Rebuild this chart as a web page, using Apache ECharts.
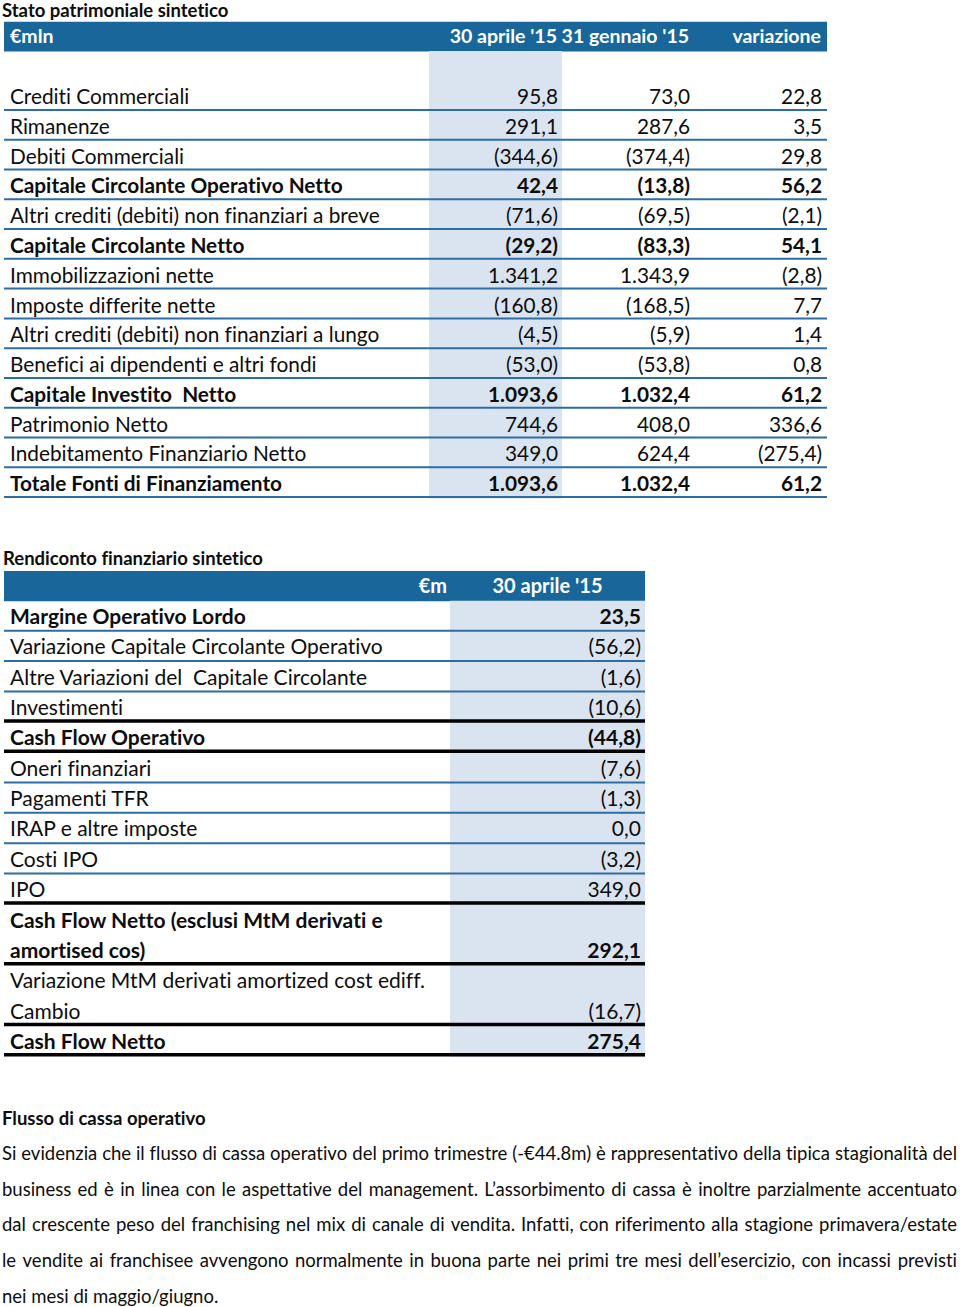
<!DOCTYPE html>
<html><head><meta charset="utf-8">
<script src="https://cdn.jsdelivr.net/npm/echarts@6/dist/echarts.min.js"></script>
<style>html,body{margin:0;padding:0;background:#fff}#c{width:960px;height:1307px}
#c text{font-variant-ligatures:none !important;font-feature-settings:"liga" 0,"clig" 0,"dlig" 0 !important}</style>
</head><body><div id="c"></div>
<script>
// ---------- DATA ----------
const spTitle = 'Stato patrimoniale sintetico';
const spHeaders = ['€mln', "30 aprile '15", "31 gennaio '15", 'variazione'];
const spLabels = [
  'Crediti Commerciali', 'Rimanenze', 'Debiti Commerciali',
  'Capitale Circolante Operativo Netto', 'Altri crediti (debiti) non finanziari a breve',
  'Capitale Circolante Netto', 'Immobilizzazioni nette', 'Imposte differite nette',
  'Altri crediti (debiti) non finanziari a lungo', 'Benefici ai dipendenti e altri fondi',
  'Capitale Investito  Netto', 'Patrimonio Netto', 'Indebitamento Finanziario Netto',
  'Totale Fonti di Finanziamento'
];
const spApr15 = [95.8, 291.1, -344.6, 42.4, -71.6, -29.2, 1341.2, -160.8, -4.5, -53.0, 1093.6, 744.6, 349.0, 1093.6];
const spJan15 = [73.0, 287.6, -374.4, -13.8, -69.5, -83.3, 1343.9, -168.5, -5.9, -53.8, 1032.4, 408.0, 624.4, 1032.4];
const spVar   = [22.8, 3.5, 29.8, 56.2, -2.1, 54.1, -2.8, 7.7, 1.4, 0.8, 61.2, 336.6, -275.4, 61.2];
const spBold  = [0, 0, 0, 1, 0, 1, 0, 0, 0, 0, 1, 0, 0, 1];

const rfTitle = 'Rendiconto finanziario sintetico';
const rfHeaders = ['€m', "30 aprile '15"];
const rfLabels = [
  'Margine Operativo Lordo', 'Variazione Capitale Circolante Operativo',
  'Altre Variazioni del  Capitale Circolante', 'Investimenti', 'Cash Flow Operativo',
  'Oneri finanziari', 'Pagamenti TFR', 'IRAP e altre imposte', 'Costi IPO', 'IPO',
  'Cash Flow Netto (esclusi MtM derivati e\namortised cos)',
  'Variazione MtM derivati amortized cost ediff.\nCambio',
  'Cash Flow Netto'
];
const rfValues = [23.5, -56.2, -1.6, -10.6, -44.8, -7.6, -1.3, 0.0, -3.2, 349.0, 292.1, -16.7, 275.4];
const rfBold   = [1, 0, 0, 0, 1, 0, 0, 0, 0, 0, 1, 0, 1];
const rfRule   = ['blue', 'blue', 'blue', 'black', 'black', 'blue', 'blue', 'blue', 'blue', 'black', 'black', 'black', 'black'];

const noteTitle = 'Flusso di cassa operativo';
const noteLines = [
  'Si evidenzia che il flusso di cassa operativo del primo trimestre (-€44.8m) è rappresentativo della tipica stagionalità del',
  'business ed è in linea con le aspettative del management. L’assorbimento di cassa è inoltre parzialmente accentuato',
  'dal crescente peso del franchising nel mix di canale di vendita. Infatti, con riferimento alla stagione primavera/estate',
  'le vendite ai franchisee avvengono normalmente in buona parte nei primi tre mesi dell’esercizio, con incassi previsti',
  'nei mesi di maggio/giugno.'
];

// ---------- STYLE / LAYOUT ----------
const FONT = 'Lato';
const C = { head: '#19679a', shade: '#dae4f0', blue: '#2c6da4', black: '#000000', text: '#0d0d0d' };
const T1 = { left: 4, right: 827, shadeL: 429, shadeR: 562, labelX: 10, cols: [558, 690, 822], size: 20.8, headSize: 19.5, dy: -0.5, hdy: -1 };
const T2 = { left: 4, right: 645, shadeL: 450, shadeR: 645, labelX: 10, unitR: 447, valR: 641, size: 21, headSize: 20, dy: -1, hdy: -1 };
const font = (b, s) => (b ? 'bold ' : '') + s + 'px ' + FONT;

function fmt(v) {
  const p = Math.abs(v).toFixed(1).split('.');
  const s = p[0].replace(/\B(?=(\d{3})+(?!\d))/g, '.') + ',' + p[1];
  return v < 0 ? '(' + s + ')' : s;
}
function txt(x, y, text, f, fill, align) {
  return { type: 'text', x: x, y: y, z2: 20, style: { text: text, font: f, fill: fill, align: align, verticalAlign: 'middle' } };
}

const cat1 = ['header', 'gap'].concat(spLabels);
const lines2 = [];
rfLabels.forEach((lab, r) => {
  const parts = lab.split('\n');
  parts.forEach((t, j) => lines2.push({ r: r, t: t, last: j === parts.length - 1 }));
});
const cat2 = ['header'].concat(lines2.map(l => l.t));

function band(api, k) {
  const c = api.coord([0, k]);
  const h = api.size([0, 1])[1];
  return { top: c[1] - h / 2, bot: c[1] + h / 2, mid: c[1], h: h, X: v => api.coord([v, k])[0] };
}

function render1(params, api) {
  const k = api.value(1);
  const b = band(api, k);
  const ch = [];
  if (k === 0) {
    ch.push({ type: 'rect', shape: { x: b.X(T1.left), y: b.top, width: b.X(T1.right) - b.X(T1.left), height: b.h }, style: { fill: C.head } });
    const hf = font(true, T1.headSize);
    ch.push(txt(b.X(T1.labelX), b.mid + T1.hdy, spHeaders[0], hf, '#fff', 'left'));
    for (let c = 0; c < 3; c++) ch.push(txt(b.X(T1.cols[c] - 1), b.mid + T1.hdy, spHeaders[c + 1], hf, '#fff', 'right'));
    return { type: 'group', children: ch };
  }
  ch.push({ type: 'rect', shape: { x: b.X(T1.shadeL), y: b.top - 0.5, width: b.X(T1.shadeR) - b.X(T1.shadeL), height: b.h + 1 }, style: { fill: C.shade } });
  if (k >= 2) {
    const i = k - 2;
    const f = font(spBold[i], T1.size);
    const y = b.mid + T1.dy;
    ch.push(txt(b.X(T1.labelX), y, spLabels[i], f, C.text, 'left'));
    [spApr15, spJan15, spVar].forEach((arr, c) => ch.push(txt(b.X(T1.cols[c]), y, fmt(arr[i]), f, C.text, 'right')));
    ch.push({ type: 'line', z2: 10, shape: { x1: b.X(T1.left), y1: b.bot - 1, x2: b.X(T1.right), y2: b.bot - 1 }, style: { stroke: C.blue, lineWidth: 2 } });
  }
  return { type: 'group', children: ch };
}

function render2(params, api) {
  const k = api.value(1);
  const b = band(api, k);
  const ch = [];
  if (k === 0) {
    ch.push({ type: 'rect', shape: { x: b.X(T2.left), y: b.top, width: b.X(T2.right) - b.X(T2.left), height: b.h }, style: { fill: C.head } });
    const hf = font(true, T2.headSize);
    ch.push(txt(b.X(T2.unitR), b.mid + T2.hdy, rfHeaders[0], hf, '#fff', 'right'));
    ch.push(txt((b.X(T2.shadeL) + b.X(T2.shadeR)) / 2, b.mid + T2.hdy, rfHeaders[1], hf, '#fff', 'center'));
    return { type: 'group', children: ch };
  }
  const ln = lines2[k - 1];
  const f = font(rfBold[ln.r], T2.size);
  const y = b.mid + T2.dy;
  ch.push({ type: 'rect', shape: { x: b.X(T2.shadeL), y: b.top - 0.5, width: b.X(T2.shadeR) - b.X(T2.shadeL), height: b.h + 1 }, style: { fill: C.shade } });
  ch.push(txt(b.X(T2.labelX), y, ln.t, f, C.text, 'left'));
  if (ln.last) {
    ch.push(txt(b.X(T2.valR), y, fmt(rfValues[ln.r]), f, C.text, 'right'));
    const black = rfRule[ln.r] === 'black';
    const w = black ? 3.5 : 2;
    ch.push({ type: 'line', z2: 10, shape: { x1: b.X(T2.left), y1: b.bot - w / 2, x2: b.X(T2.right), y2: b.bot - w / 2 }, style: { stroke: black ? C.black : C.blue, lineWidth: w } });
  }
  return { type: 'group', children: ch };
}

// ---------- justified paragraph via graphic ----------
const NOTE = { left: 2, right: 957, top: 1153, step: 35.7, size: 18.5 };
const mctx = document.createElement('canvas').getContext('2d');
function noteGraphics() {
  const out = [];
  const f = font(false, NOTE.size);
  mctx.font = f;
  noteLines.forEach((line, li) => {
    const y = NOTE.top + li * NOTE.step;
    if (li === noteLines.length - 1) {
      out.push({ type: 'text', x: NOTE.left, y: y, silent: true, style: { text: line, font: f, fill: C.text, verticalAlign: 'middle' } });
      return;
    }
    const words = line.split(' ');
    const ws = words.map(w => mctx.measureText(w).width);
    const total = ws.reduce((a, b) => a + b, 0);
    const gap = Math.max(2, (NOTE.right - NOTE.left - total) / (words.length - 1));
    let x = NOTE.left;
    words.forEach((w, i) => {
      const last = i === words.length - 1;
      out.push({ type: 'text', x: last ? NOTE.right : x, y: y, silent: true, style: { text: w, font: f, fill: C.text, verticalAlign: 'middle', align: last ? 'right' : 'left' } });
      x += ws[i] + gap;
    });
  });
  return out;
}

const chart = echarts.init(document.getElementById('c'), null, { renderer: 'svg' });
chart.setOption({
  animation: false,
  backgroundColor: '#ffffff',
  grid: [
    { left: 0, right: 0, top: 21.7, height: 476.3 },
    { left: 0, right: 0, top: 571, height: 485.6 }
  ],
  xAxis: [
    { type: 'value', gridIndex: 0, min: 0, max: 960, show: false },
    { type: 'value', gridIndex: 1, min: 0, max: 960, show: false }
  ],
  yAxis: [
    { type: 'category', gridIndex: 0, data: cat1, inverse: true, show: false },
    { type: 'category', gridIndex: 1, data: cat2, inverse: true, show: false }
  ],
  series: [
    { type: 'custom', xAxisIndex: 0, yAxisIndex: 0, clip: false, silent: true,
      data: cat1.map((_, i) => [0, i]), encode: { x: 0, y: 1 }, renderItem: render1 },
    { type: 'custom', xAxisIndex: 1, yAxisIndex: 1, clip: false, silent: true,
      data: cat2.map((_, i) => [0, i]), encode: { x: 0, y: 1 }, renderItem: render2 }
  ],
  graphic: [
    { type: 'text', x: 2, y: 0, silent: true, style: { text: spTitle, font: font(true, 18.5), fill: C.text, verticalAlign: 'top' } },
    { type: 'text', x: 3, y: 557.5, silent: true, style: { text: rfTitle, font: font(true, 18.5), fill: C.text, verticalAlign: 'middle' } },
    { type: 'text', x: 2, y: 1117.5, silent: true, style: { text: noteTitle, font: font(true, 18.5), fill: C.text, verticalAlign: 'middle' } }
  ].concat(noteGraphics())
});
</script>
</body></html>
